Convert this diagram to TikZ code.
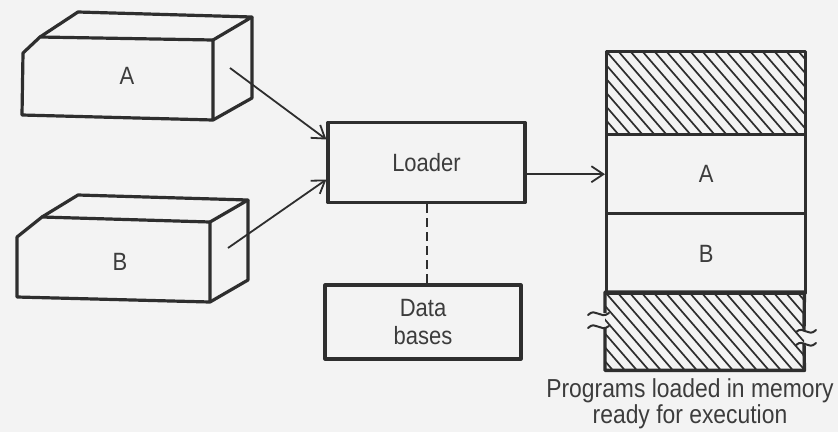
\documentclass[tikz,border=0pt]{standalone}
\usepackage{fontspec}
\setsansfont[FakeStretch=0.88]{Liberation Sans}
\usetikzlibrary{arrows.meta,calc}
\definecolor{ink}{HTML}{2E2E2E}
\definecolor{txt}{HTML}{3C3C3C}
\definecolor{paper}{HTML}{F3F3F3}
\begin{document}
\begin{tikzpicture}[x=1pt,y=-1pt,
  outline/.style={draw=ink,line width=3.2pt,line join=round},
  lbl/.style={text=txt,font=\sffamily\fontsize{25}{28}\selectfont,inner sep=0pt},
  flowbox/.style={outline,rectangle,inner sep=0pt,lbl},
  conn/.style={draw=ink,line width=1.8pt,-{Straight Barb[length=12pt,width=16pt]}},
  brk/.style={draw=ink,line width=2pt,line cap=round},
  hatched/.style={path picture={
    \foreach \k in {-8,...,18}{
      \draw[ink,line width=1.7pt] ([xshift=\k*12pt]path picture bounding box.north west) -- ++(104pt,-120pt);
    }}},
  memcell/.style={rectangle,inner sep=0pt,minimum width=199pt,anchor=north west,lbl},
]
\useasboundingbox (0,0) rectangle (838,432);
\fill[paper] (0,0) rectangle (838,432);

% program A as a solid block
\draw[outline] (23,53) -- (40,37) -- (213,40) -- (213,120) -- (22,115) -- cycle;
\draw[outline] (40,37) -- (78,12) -- (252,17) -- (213,40);
\draw[outline] (252,17) -- (252,98) -- (213,120);
\node[lbl] (progA) at (127,76) {A};
\coordinate (aOut) at (230,68);

% program B as a solid block
\draw[outline] (17,237) -- (42,217) -- (210,222) -- (210,302) -- (17,297) -- cycle;
\draw[outline] (42,217) -- (78,195) -- (248,200) -- (210,222);
\draw[outline] (248,200) -- (248,280) -- (210,302);
\node[lbl] (progB) at (120,262) {B};
\coordinate (bOut) at (228,248);

% loader and data bases
\node[flowbox,minimum width=197pt,minimum height=80pt] (loader) at (426.5,162.5) {Loader};
\node[flowbox,minimum width=196pt,minimum height=74pt,align=center] (db) at (423,322) {Data\\bases};

% memory column
\node[memcell,outline,hatched,minimum height=83pt,line width=3.4pt] (memTop) at (605,50) {};
\node[memcell,outline,minimum height=79pt,line width=3.4pt] (memA) at (605,133) {A};
\node[memcell,outline,minimum height=80pt,line width=3.4pt] (memB) at (605,212) {B};
\node[memcell,hatched,minimum height=78pt] (memBot) at (605,292) {};
\draw[outline,line width=3.4pt] (605,313) -- (memBot.north west) -- (memBot.north east) -- (804,330);
\draw[outline,line width=3.4pt] (804,343) -- (memBot.south east) -- (memBot.south west) -- (605,328);

% break marks
\draw[brk] (588,315) .. controls (596,307) and (600,320) .. (609,313);
\draw[brk] (588,328) .. controls (596,320) and (600,333) .. (609,326);
\draw[brk] (796,332) .. controls (804,325) and (808,338) .. (816,330);
\draw[brk] (796,345) .. controls (804,338) and (808,351) .. (816,343);

% connectors
\draw[conn] (aOut) -- ([yshift=23pt]loader.west);
\draw[conn] (bOut) -- ([yshift=-17pt]loader.west);
\draw[conn] (loader.east |- memA.west) -- (memA.west);
\draw[draw=ink,line width=2pt,dash pattern=on 9pt off 5pt] (loader.south) -- (loader.south |- db.north);

% caption
\node[lbl,align=center,font=\sffamily\fontsize{26}{26}\selectfont] (caption) at (690,404) {Programs loaded in memory\\ready for execution};
\end{tikzpicture}
\end{document}
